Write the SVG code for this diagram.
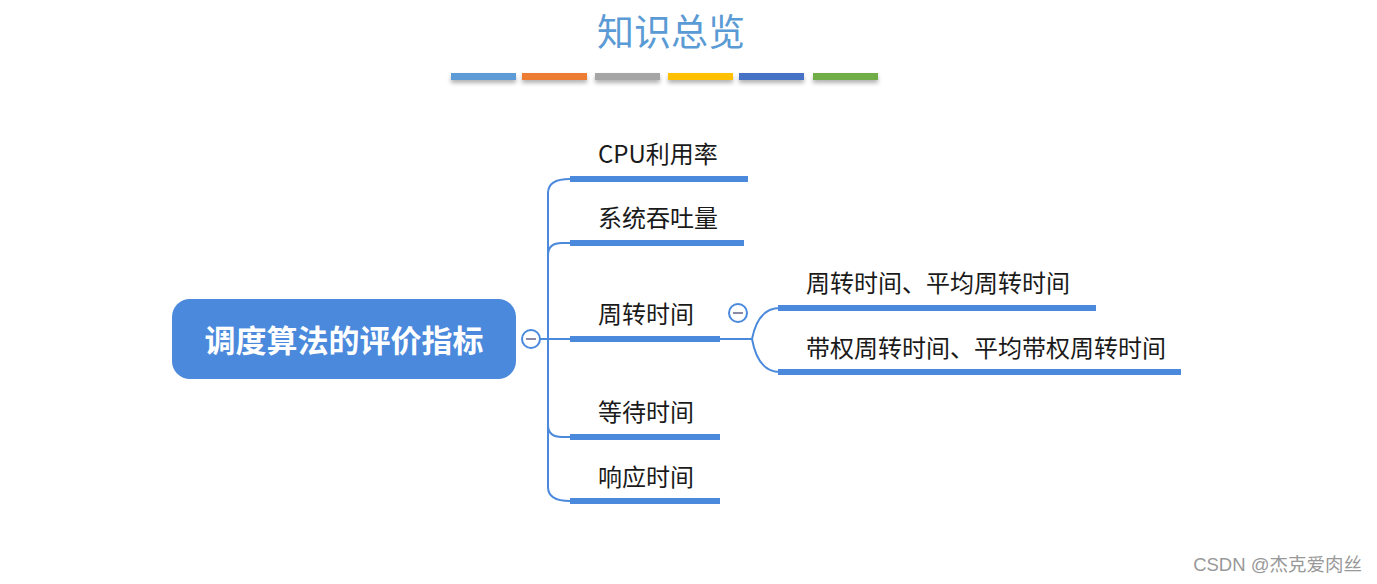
<svg xmlns="http://www.w3.org/2000/svg" width="1377" height="584" viewBox="0 0 1377 584">
<defs>
<filter id="sh" x="-10%" y="-50%" width="120%" height="250%">
<feDropShadow dx="0" dy="3" stdDeviation="2" flood-color="#000" flood-opacity="0.3"/>
</filter>
</defs>
<style>
.t{font-family:"Noto Sans CJK SC","Liberation Sans",sans-serif;font-size:24px;fill:#1a1a1a}
.bar{fill:#4A89DC}
.ln{fill:none;stroke:#4A89DC;stroke-width:2}
.cc{fill:#fff;stroke:#4A89DC;stroke-width:2}
.mn{stroke:#8a8aa8;stroke-width:2}
</style>
<rect width="1377" height="584" fill="#fff"/>
<g id="title">
<text x="671" y="46" text-anchor="middle" style="font-family:'Noto Sans CJK SC',serif;font-size:37px;fill:#5B9BD5">知识总览</text>
<g filter="url(#sh)">
<rect x="451" y="73" width="65" height="7" fill="#5B9BD5"/>
<rect x="522" y="73" width="65" height="7" fill="#ED7D31"/>
<rect x="595" y="73" width="65" height="7" fill="#A5A5A5"/>
<rect x="668" y="73" width="65" height="7" fill="#FFC000"/>
<rect x="739" y="73" width="65" height="7" fill="#4472C4"/>
<rect x="813" y="73" width="65" height="7" fill="#70AD47"/>
</g>
</g>
<g id="connectors">
<path class="ln" d="M539,339 L548,339"/>
<path class="ln" d="M570,179 Q548,179 548,193 L548,487 Q548,501 570,501"/>
<path class="ln" d="M548,255 Q548,243 562,243 L570,243"/>
<path class="ln" d="M548,339 L570,339"/>
<path class="ln" d="M548,425 Q548,437 562,437 L570,437"/>
<path class="ln" d="M720,339 L752,339"/>
<path class="ln" d="M752,339 Q758,308 780,308"/>
<path class="ln" d="M752,339 Q758,372 780,372"/>
</g>
<g id="root">
<rect x="172" y="299" width="344" height="80" rx="18" fill="#4A89DC"/>
<text x="344" y="352" text-anchor="middle" style="font-family:'Noto Sans CJK SC',sans-serif;font-size:31px;font-weight:bold;fill:#fff">调度算法的评价指标</text>
<circle class="cc" cx="531" cy="339" r="9"/>
<line class="mn" x1="526" y1="339" x2="536" y2="339"/>
</g>
<g id="n-cpu">
<text class="t" x="598" y="163">CPU利用率</text>
<rect class="bar" x="570" y="176" width="178" height="6"/>
</g>
<g id="n-tput">
<text class="t" x="598" y="227">系统吞吐量</text>
<rect class="bar" x="570" y="240" width="174" height="6"/>
</g>
<g id="n-tat">
<text class="t" x="598" y="323">周转时间</text>
<rect class="bar" x="570" y="336" width="150" height="6"/>
<circle class="cc" cx="738" cy="313" r="9"/>
<line class="mn" x1="733" y1="313" x2="743" y2="313"/>
</g>
<g id="n-tat1">
<text class="t" x="806" y="292">周转时间、平均周转时间</text>
<rect class="bar" x="778" y="305" width="318" height="6"/>
</g>
<g id="n-tat2">
<text class="t" x="806" y="357">带权周转时间、平均带权周转时间</text>
<rect class="bar" x="778" y="369" width="403" height="6"/>
</g>
<g id="n-wait">
<text class="t" x="598" y="421">等待时间</text>
<rect class="bar" x="570" y="434" width="150" height="6"/>
</g>
<g id="n-resp">
<text class="t" x="598" y="486">响应时间</text>
<rect class="bar" x="570" y="498" width="150" height="6"/>
</g>
<text x="1362" y="571" text-anchor="end" style="font-family:'Liberation Sans','Noto Sans CJK SC',sans-serif;font-size:18.5px;fill:#999">CSDN @杰克爱肉丝</text>
</svg>
